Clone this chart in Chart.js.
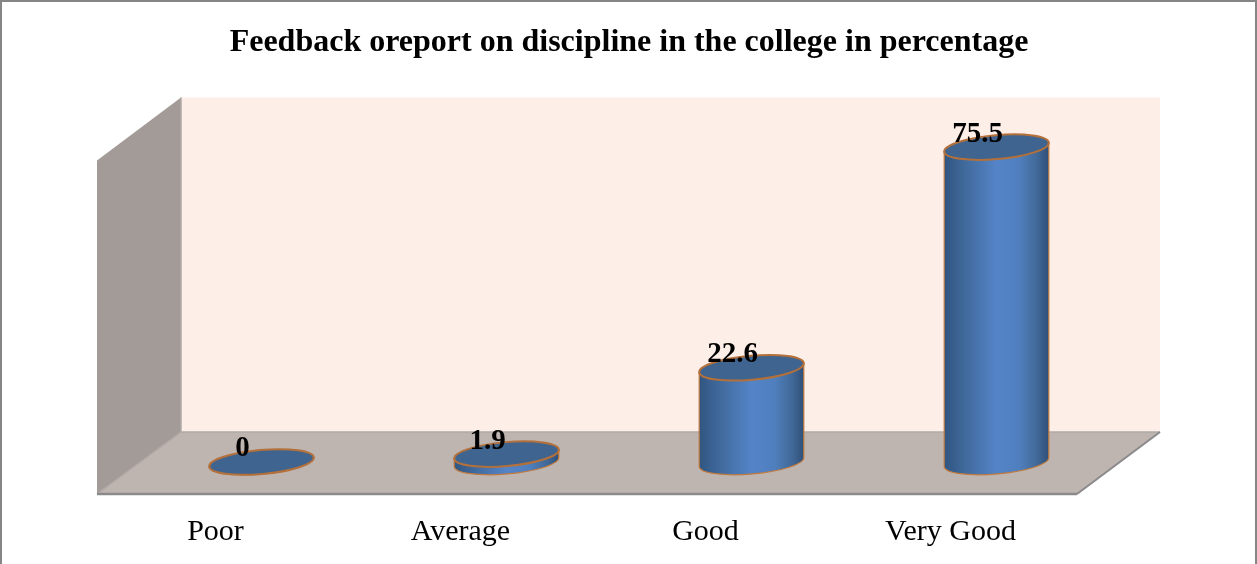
<!DOCTYPE html>
<html>
<head>
<meta charset="utf-8">
<title>Feedback report</title>
<script src="https://cdn.jsdelivr.net/npm/chart.js"></script>
<style>
  html, body { margin: 0; padding: 0; background: #fff; }
  #wrap { position: relative; width: 1257px; height: 564px; box-sizing: border-box; border: 2px solid #868686; border-bottom: none; overflow: hidden; }
  #chart { position: absolute; left: -2px; top: -2px; }
</style>
</head>
<body>
<div id="wrap"><canvas id="chart" width="1257" height="564"></canvas></div>
<script>
// Chart data
const categories = ["Poor", "Average", "Good", "Very Good"];
const percentages = [0, 1.9, 22.6, 75.5];
const chartTitle = "Feedback oreport on discipline in the college in percentage";

const SERIF = "'Liberation Serif', 'Times New Roman', serif";
const TILT = -5 * Math.PI / 180;
const RY = 12;

// Box behind the bars: walls and floor, placed around the plot area
const roomPlugin = {
  id: "room",
  beforeDraw(chart) {
    const { ctx, chartArea: a } = chart;
    const dx = 42, back = 30, front = 32;
    const top = a.top - 31;
    ctx.save();
    // back wall
    ctx.fillStyle = "#feeee8";
    ctx.fillRect(a.left + dx, top, a.right - a.left - 1, a.bottom - back - top);
    // side wall
    ctx.fillStyle = "#a39b97";
    ctx.beginPath();
    ctx.moveTo(a.left - dx, a.top + 32);
    ctx.lineTo(a.left + dx, top);
    ctx.lineTo(a.left + dx, a.bottom - back);
    ctx.lineTo(a.left - dx, a.bottom + front);
    ctx.closePath();
    ctx.fill();
    // floor
    ctx.fillStyle = "#beb4b0";
    ctx.beginPath();
    ctx.moveTo(a.left + dx, a.bottom - back);
    ctx.lineTo(a.right + dx - 1, a.bottom - back);
    ctx.lineTo(a.right - dx, a.bottom + front);
    ctx.lineTo(a.left - dx, a.bottom + front);
    ctx.closePath();
    ctx.fill();
    // edges
    ctx.strokeStyle = "#b0aaa6";
    ctx.lineWidth = 1.5;
    ctx.beginPath();
    ctx.moveTo(a.left + dx, top);
    ctx.lineTo(a.left + dx, a.bottom - back);
    ctx.lineTo(a.right + dx - 1, a.bottom - back);
    ctx.moveTo(a.left + dx, a.bottom - back);
    ctx.lineTo(a.left - dx, a.bottom + front);
    ctx.stroke();
    ctx.strokeStyle = "#8a8a8a";
    ctx.lineWidth = 2.5;
    ctx.beginPath();
    ctx.moveTo(a.left - dx, a.bottom + front);
    ctx.lineTo(a.right - dx, a.bottom + front);
    ctx.stroke();
    ctx.lineWidth = 2;
    ctx.beginPath();
    ctx.moveTo(a.right - dx, a.bottom + front);
    ctx.lineTo(a.right + dx - 1, a.bottom - back);
    ctx.stroke();
    ctx.restore();
  }
};

// Draws each bar element as a cylinder, with its value beside the top
const cylinderPlugin = {
  id: "cylinder",
  afterDatasetsDraw(chart) {
    const { ctx } = chart;
    const meta = chart.getDatasetMeta(0);
    meta.data.forEach((bar, i) => {
      const cx = bar.x, yTop = bar.y, yBase = bar.base, rx = bar.width / 2;
      const ex = rx * Math.cos(TILT), ey = rx * Math.sin(TILT);

      const grad = ctx.createLinearGradient(cx - rx, 0, cx + rx, 0);
      grad.addColorStop(0, "#305580");
      grad.addColorStop(0.22, "#426c9f");
      grad.addColorStop(0.5, "#5484c8");
      grad.addColorStop(0.72, "#4f7fbd");
      grad.addColorStop(0.88, "#426a99");
      grad.addColorStop(1, "#2f4f78");

      ctx.save();
      // body
      ctx.beginPath();
      ctx.moveTo(cx - ex, yTop - ey);
      ctx.lineTo(cx - ex, yBase - ey);
      ctx.ellipse(cx, yBase, rx, RY, TILT, Math.PI, 0, true);
      ctx.lineTo(cx + ex, yTop + ey);
      ctx.closePath();
      ctx.fillStyle = grad;
      ctx.fill();
      ctx.strokeStyle = "#c07a3e";
      ctx.lineWidth = 1.2;
      ctx.stroke();
      // top face
      ctx.beginPath();
      ctx.ellipse(cx, yTop, rx, RY, TILT, 0, Math.PI * 2);
      ctx.fillStyle = "#3e648f";
      ctx.fill();
      ctx.strokeStyle = "#b3703a";
      ctx.lineWidth = 2;
      ctx.stroke();
      // value
      ctx.fillStyle = "#000";
      ctx.font = "bold 29px " + SERIF;
      ctx.textAlign = "center";
      ctx.textBaseline = "middle";
      ctx.fillText(String(percentages[i]), cx - 19, yTop - 13);
      ctx.restore();
    });
  }
};

new Chart(document.getElementById("chart"), {
  type: "bar",
  data: {
    labels: categories,
    datasets: [{
      data: percentages,
      backgroundColor: "rgba(0,0,0,0)",
      borderWidth: 0,
      barThickness: 105
    }]
  },
  options: {
    responsive: false,
    animation: false,
    layout: { padding: { left: 139, right: 138, top: 24 } },
    plugins: {
      legend: { display: false },
      tooltip: { enabled: false },
      title: {
        display: true,
        text: chartTitle,
        color: "#000",
        font: { family: SERIF, size: 32, weight: "bold" },
        padding: { top: 0, bottom: 66 }
      }
    },
    scales: {
      y: { display: false, min: 0, max: 80 },
      x: {
        afterFit: (scale) => { scale.height = 102; },
        grid: { display: false, drawTicks: false },
        border: { display: false },
        ticks: {
          color: "#000",
          font: { family: SERIF, size: 30 },
          padding: 52,
          labelOffset: -46,
          maxRotation: 0
        }
      }
    }
  },
  plugins: [roomPlugin, cylinderPlugin]
});
</script>
</body>
</html>
